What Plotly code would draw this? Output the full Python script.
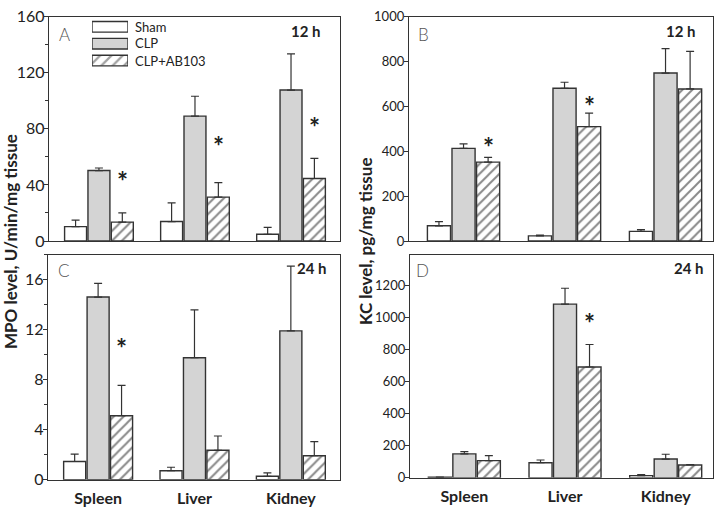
import plotly.graph_objects as go

# ---------------- data ----------------
organs = ["Spleen", "Liver", "Kidney"]
groups = ["Sham", "CLP", "CLP+AB103"]

# Panel A: MPO, 12 h (value, upper SD)
mpo12_sham = [10.3, 13.9, 4.8]
mpo12_sham_sd = [4.6, 13.3, 5.0]
mpo12_clp = [50.3, 89.1, 107.7]
mpo12_clp_sd = [1.8, 14.2, 25.8]
mpo12_ab = [13.5, 31.3, 44.6]
mpo12_ab_sd = [6.6, 10.3, 14.4]

# Panel B: KC, 12 h
kc12_sham = [68, 23, 43]
kc12_sham_sd = [19, 4, 8]
kc12_clp = [413, 681, 749]
kc12_clp_sd = [20, 27, 109]
kc12_ab = [352, 510, 678]
kc12_ab_sd = [21, 60, 168]

# Panel C: MPO, 24 h
mpo24_sham = [1.46, 0.72, 0.28]
mpo24_sham_sd = [0.59, 0.28, 0.28]
mpo24_clp = [14.6, 9.75, 11.9]
mpo24_clp_sd = [1.1, 3.82, 5.18]
mpo24_ab = [5.12, 2.36, 1.92]
mpo24_ab_sd = [2.43, 1.14, 1.13]

# Panel D: KC, 24 h
kc24_sham = [4, 94, 14]
kc24_sham_sd = [1, 17, 6]
kc24_clp = [149, 1081, 117]
kc24_clp_sd = [14, 99, 30]
kc24_ab = [107, 690, 80]
kc24_ab_sd = [32, 140, 2]

# significance marks: (organ index, height of asterisk)
stars_A = [(0, 47), (1, 72), (2, 85.7)]
stars_B = [(0, 444), (1, 630)]
stars_C = [(0, 11.0)]
stars_D = [(1, 1000)]

# ---------------- style ----------------
W, H = 720, 509
EDGE = "#333333"
FONT = "Lato"
BARGAP = 0.27
GROUPGAP = 0.06
HATCH = dict(shape="/", fgcolor="#111111", bgcolor="white", size=7, solidity=0.28)


def px(v):
    return v / W


def py(v):
    return 1 - v / H


styles = {
    "Sham": dict(color="white"),
    "CLP": dict(color="#d4d4d4"),
    "CLP+AB103": dict(color="white", pattern=HATCH),
}

panels = [
    dict(letter="A", time="12 h", ax="", vals=[mpo12_sham, mpo12_clp, mpo12_ab],
         sds=[mpo12_sham_sd, mpo12_clp_sd, mpo12_ab_sd], stars=stars_A),
    dict(letter="B", time="12 h", ax="2", vals=[kc12_sham, kc12_clp, kc12_ab],
         sds=[kc12_sham_sd, kc12_clp_sd, kc12_ab_sd], stars=stars_B),
    dict(letter="C", time="24 h", ax="3", vals=[mpo24_sham, mpo24_clp, mpo24_ab],
         sds=[mpo24_sham_sd, mpo24_clp_sd, mpo24_ab_sd], stars=stars_C),
    dict(letter="D", time="24 h", ax="4", vals=[kc24_sham, kc24_clp, kc24_ab],
         sds=[kc24_sham_sd, kc24_clp_sd, kc24_ab_sd], stars=stars_D),
]

xpos = list(range(len(organs)))
fig = go.Figure()

for p in panels:
    for g, v, sd in zip(groups, p["vals"], p["sds"]):
        m = dict(styles[g])
        m["line"] = dict(color=EDGE, width=1.4)
        fig.add_trace(go.Bar(
            x=xpos, y=v, name=g, showlegend=False,
            xaxis="x" + p["ax"], yaxis="y" + p["ax"],
            marker=m,
            error_y=dict(type="data", array=sd, arrayminus=[0] * len(sd),
                         symmetric=False, color=EDGE, thickness=1.2, width=4),
        ))

# legend drawn as a small hidden bar subplot inside panel A
fig.add_trace(go.Bar(
    y=[0, 1, 2], x=[1, 1, 1], base=0, orientation="h", width=0.63,
    xaxis="x5", yaxis="y5", showlegend=False, hoverinfo="skip",
    marker=dict(color=["white", "#d4d4d4", "white"],
                line=dict(color=EDGE, width=1.4),
                pattern=dict(shape=["", "", "/"], fgcolor="#111111",
                             bgcolor=["white", "#d4d4d4", "white"],
                             size=8, solidity=0.28)),
))

# ---------------- axes ----------------
dom = {
    "": dict(x=[px(49), px(340)], y=[py(240), py(7)]),
    "2": dict(x=[px(409), px(713)], y=[py(240), py(7)]),
    "3": dict(x=[px(48), px(340)], y=[py(488), py(254)]),
    "4": dict(x=[px(410), px(713)], y=[py(486), py(254)]),
}
xr = {"": [-0.52, 2.51], "2": [-0.54, 2.47], "3": [-0.52, 2.51], "4": [-0.54, 2.47]}
yax = {
    "": dict(range=[0, 160], tickvals=[0, 40, 80, 120, 160], minor=dict(dtick=20, ticks="outside", ticklen=3, tickcolor=EDGE), fs=16, so=-4),
    "2": dict(range=[0, 1000], tickvals=[0, 200, 400, 600, 800, 1000], minor=None, fs=13, so=-3),
    "3": dict(range=[0, 18], tickvals=[0, 4, 8, 12, 16], minor=dict(dtick=2, ticks="outside", ticklen=3, tickcolor=EDGE), fs=16, so=-4),
    "4": dict(range=[0, 1390], tickvals=[0, 200, 400, 600, 800, 1000, 1200], minor=None, fs=13, so=-3),
}

layout = dict(
    width=W, height=H, margin=dict(l=0, r=0, t=0, b=0),
    paper_bgcolor="white", plot_bgcolor="white",
    barmode="group", bargap=BARGAP, bargroupgap=GROUPGAP,
    font=dict(family=FONT, color="#222222"),
)

for k in ["", "2", "3", "4"]:
    bottom = k in ("3", "4")
    layout["xaxis" + k] = dict(
        domain=dom[k]["x"], anchor="y" + k, range=xr[k],
        tickvals=xpos, ticktext=["<b>%s</b>" % o for o in organs],
        showticklabels=bottom, ticks="", tickfont=dict(size=16, family=FONT, color="#222"),
        ticklabeloverflow="allow", ticklabelstandoff=4,
        showline=True, linecolor=EDGE, linewidth=1.3, mirror=True,
        showgrid=False, zeroline=False, fixedrange=True,
    )
    ya = yax[k]
    yd = dict(
        domain=dom[k]["y"], anchor="x" + k, range=ya["range"], tickvals=ya["tickvals"],
        ticks="outside", ticklen=4, tickcolor=EDGE, tickwidth=1.2,
        tickfont=dict(size=ya["fs"], family=FONT, color="#222"),
        ticklabeloverflow="allow", ticklabelstandoff=ya["so"],
        showline=True, linecolor=EDGE, linewidth=1.3, mirror=True,
        showgrid=False, zeroline=False, fixedrange=True,
    )
    if ya["minor"]:
        yd["minor"] = ya["minor"]
    layout["yaxis" + k] = yd

layout["xaxis5"] = dict(domain=[px(92), px(128)], anchor="y5", range=[0, 1], visible=False, fixedrange=True)
layout["yaxis5"] = dict(domain=[py(61.25), py(8.75)], anchor="x5", range=[2.5, -0.5], visible=False, fixedrange=True)

fig.update_layout(**layout)

# ---------------- annotations ----------------
ann = []
slot = (1 - BARGAP) / 3
for p in panels:
    for i, yv in p["stars"]:
        ann.append(dict(x=i + slot, y=yv, xref="x" + p["ax"], yref="y" + p["ax"],
                        text="<b>*</b>", showarrow=False, yanchor="middle",
                        yshift=-6, font=dict(size=26, family=FONT, color="#222")))

letter_pos = {"A": (57, 12), "B": (416, 12), "C": (56, 258), "D": (414, 258)}
time_pos = {"A": (323, 10), "B": (698, 10), "C": (329, 257), "D": (706, 257)}
for p in panels:
    lx, ly = letter_pos[p["letter"]]
    ann.append(dict(x=px(lx), y=py(ly), xref="paper", yref="paper", text=p["letter"],
                    showarrow=False, xanchor="left", yanchor="top",
                    font=dict(size=17, family=FONT, color="#555", weight=300)))
    tx, ty = time_pos[p["letter"]]
    ann.append(dict(x=px(tx), y=py(ty), xref="paper", yref="paper", text="<b>%s</b>" % p["time"],
                    showarrow=False, xanchor="right", yanchor="top",
                    font=dict(size=15, family=FONT, color="#222")))

# legend texts
for g, cy in zip(groups, [17.5, 34.5, 52.5]):
    ann.append(dict(x=px(133), y=py(cy), xref="paper", yref="paper", text=g,
                    showarrow=False, xanchor="left", yanchor="middle",
                    font=dict(size=13, family=FONT, color="#222")))

# y-axis titles
ann.append(dict(x=px(10), y=py(241), xref="paper", yref="paper",
                text="<b>MPO level, U/min/mg tissue</b>", textangle=-90, showarrow=False,
                xanchor="center", yanchor="middle",
                font=dict(size=17, family=FONT, color="#222")))
ann.append(dict(x=px(365), y=py(240), xref="paper", yref="paper",
                text="<b>KC level, pg/mg tissue</b>", textangle=-90, showarrow=False,
                xanchor="center", yanchor="middle",
                font=dict(size=17, family=FONT, color="#222")))

fig.update_layout(annotations=ann)
fig.write_html("out.html", config={"displayModeBar": False},
               post_script="document.body.style.margin='0';document.body.style.overflow='hidden';")
